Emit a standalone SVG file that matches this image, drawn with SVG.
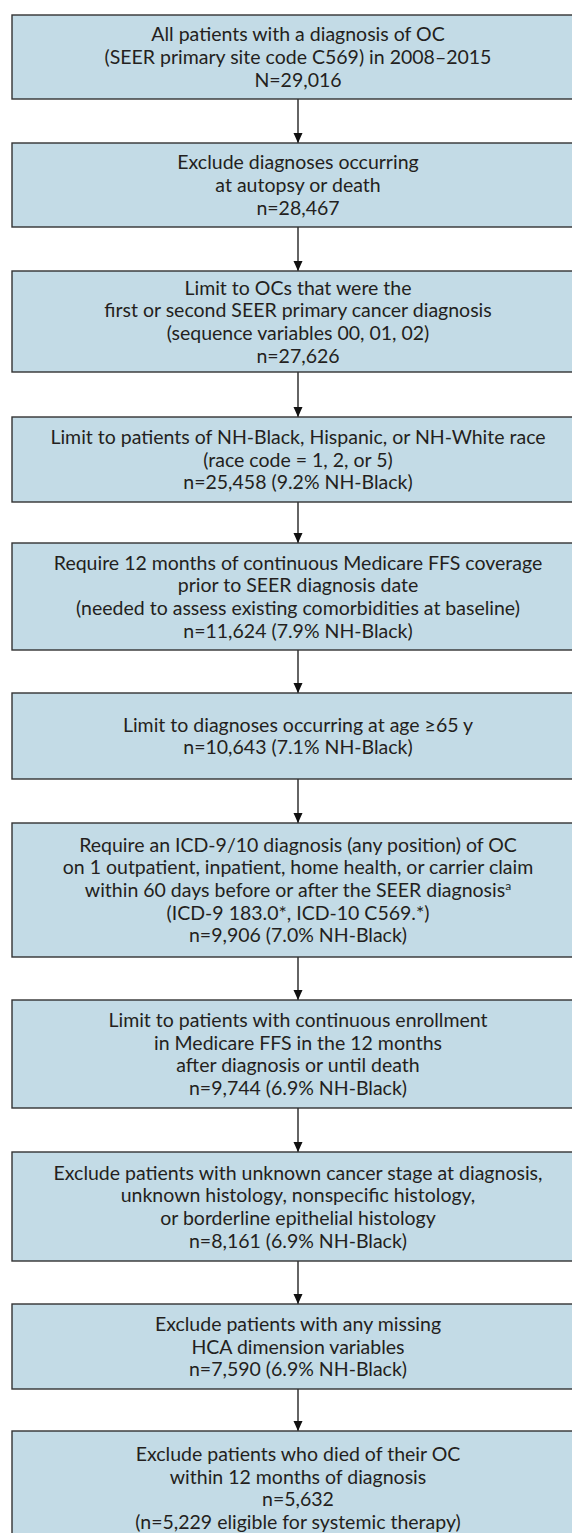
<svg xmlns="http://www.w3.org/2000/svg" width="572" height="1533" viewBox="0 0 572 1533">
<style>
.box{fill:#c3dbe6;stroke:#333;stroke-width:1.4}
.t{font-family:Lato,"Liberation Sans",sans-serif;font-size:19.5px;fill:#231f20;text-anchor:middle}
.c{stroke:#111;stroke-width:1.3;fill:none;marker-end:url(#ah)}
</style>
<defs>
<marker id="ah" markerUnits="userSpaceOnUse" markerWidth="11" markerHeight="10" refX="10" refY="4.5" orient="auto" viewBox="0 0 11 10">
<path d="M0,0 L10,4.5 L0,9 Z" fill="#111"/>
</marker>
</defs>
<rect width="572" height="1533" fill="#fff"/>
<g id="connectors">
<line class="c" x1="298" y1="99" x2="298" y2="143"/>
<line class="c" x1="298" y1="227" x2="298" y2="271"/>
<line class="c" x1="298" y1="372" x2="298" y2="417"/>
<line class="c" x1="298" y1="502" x2="298" y2="543"/>
<line class="c" x1="298" y1="650" x2="298" y2="693"/>
<line class="c" x1="298" y1="779" x2="298" y2="823"/>
<line class="c" x1="298" y1="957" x2="298" y2="1000"/>
<line class="c" x1="298" y1="1108" x2="298" y2="1152"/>
<line class="c" x1="298" y1="1261" x2="298" y2="1304"/>
<line class="c" x1="298" y1="1389" x2="298" y2="1431"/>
</g>
<g id="n1"><rect class="box" x="12" y="15" width="572" height="84"/>
<text class="t"><tspan x="298" y="41.3">All patients with a diagnosis of OC</tspan><tspan x="298" y="64">(SEER primary site code C569) in 2008–2015</tspan><tspan x="298" y="86.7">N=29,016</tspan></text></g>
<g id="n2"><rect class="box" x="12" y="143" width="572" height="84"/>
<text class="t"><tspan x="298" y="169.3">Exclude diagnoses occurring</tspan><tspan x="298" y="192">at autopsy or death</tspan><tspan x="298" y="214.7">n=28,467</tspan></text></g>
<g id="n3"><rect class="box" x="12" y="271" width="572" height="101"/>
<text class="t"><tspan x="298" y="294.5">Limit to OCs that were the</tspan><tspan x="298" y="317.2">first or second SEER primary cancer diagnosis</tspan><tspan x="298" y="339.9">(sequence variables 00, 01, 02)</tspan><tspan x="298" y="362.6">n=27,626</tspan></text></g>
<g id="n4"><rect class="box" x="12" y="417" width="572" height="85"/>
<text class="t"><tspan x="298" y="443.8">Limit to patients of NH-Black, Hispanic, or NH-White race</tspan><tspan x="298" y="466.5">(race code = 1, 2, or 5)</tspan><tspan x="298" y="489.2">n=25,458 (9.2% NH-Black)</tspan></text></g>
<g id="n5"><rect class="box" x="12" y="543" width="572" height="107"/>
<text class="t"><tspan x="298" y="569.5">Require 12 months of continuous Medicare FFS coverage</tspan><tspan x="298" y="592.2">prior to SEER diagnosis date</tspan><tspan x="298" y="614.9">(needed to assess existing comorbidities at baseline)</tspan><tspan x="298" y="637.6">n=11,624 (7.9% NH-Black)</tspan></text></g>
<g id="n6"><rect class="box" x="12" y="693" width="572" height="86"/>
<text class="t"><tspan x="298" y="731.7">Limit to diagnoses occurring at age ≥65 y</tspan><tspan x="298" y="754.4">n=10,643 (7.1% NH-Black)</tspan></text></g>
<g id="n7"><rect class="box" x="12" y="823" width="572" height="134"/>
<text class="t"><tspan x="298" y="851.6">Require an ICD-9/10 diagnosis (any position) of OC</tspan><tspan x="298" y="874.3">on 1 outpatient, inpatient, home health, or carrier claim</tspan><tspan x="298" y="897">within 60 days before or after the SEER diagnosis<tspan font-size="12" dy="-7">a</tspan></tspan><tspan x="298" y="919.7">(ICD-9 183.0*, ICD-10 C569.*)</tspan><tspan x="298" y="942.4">n=9,906 (7.0% NH-Black)</tspan></text></g>
<g id="n8"><rect class="box" x="12" y="1000" width="572" height="108"/>
<text class="t"><tspan x="298" y="1027">Limit to patients with continuous enrollment</tspan><tspan x="298" y="1049.7">in Medicare FFS in the 12 months</tspan><tspan x="298" y="1072.4">after diagnosis or until death</tspan><tspan x="298" y="1095.1">n=9,744 (6.9% NH-Black)</tspan></text></g>
<g id="n9"><rect class="box" x="12" y="1152" width="572" height="109"/>
<text class="t"><tspan x="298" y="1179.5">Exclude patients with unknown cancer stage at diagnosis,</tspan><tspan x="298" y="1202.2">unknown histology, nonspecific histology,</tspan><tspan x="298" y="1224.9">or borderline epithelial histology</tspan><tspan x="298" y="1247.6">n=8,161 (6.9% NH-Black)</tspan></text></g>
<g id="n10"><rect class="box" x="12" y="1304" width="572" height="85"/>
<text class="t"><tspan x="298" y="1330.8">Exclude patients with any missing</tspan><tspan x="298" y="1353.5">HCA dimension variables</tspan><tspan x="298" y="1376.2">n=7,590 (6.9% NH-Black)</tspan></text></g>
<g id="n11"><rect class="box" x="12" y="1431" width="572" height="112"/>
<text class="t"><tspan x="298" y="1461">Exclude patients who died of their OC</tspan><tspan x="298" y="1483.7">within 12 months of diagnosis</tspan><tspan x="298" y="1506.4">n=5,632</tspan><tspan x="298" y="1529.1">(n=5,229 eligible for systemic therapy)</tspan></text></g>
</svg>
